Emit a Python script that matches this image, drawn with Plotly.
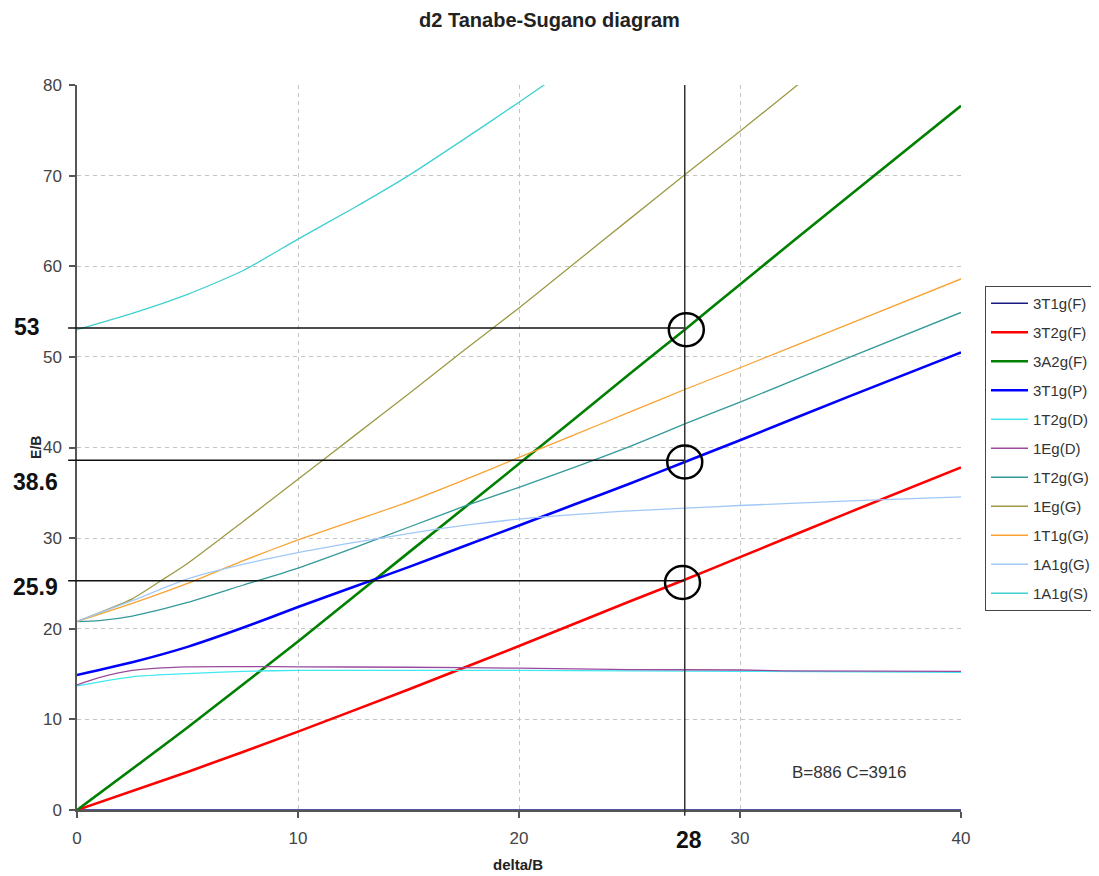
import plotly.graph_objects as go

# ---------------- data ----------------
series_names = ["3T1g(F)", "3T2g(F)", "3A2g(F)", "3T1g(P)", "1T2g(D)", "1Eg(D)",
                "1T2g(G)", "1Eg(G)", "1T1g(G)", "1A1g(G)", "1A1g(S)"]

x_3T1gF = [0, 40]
y_3T1gF = [0, 0]

x_3T2gF = [0, 5, 10, 15, 20, 25, 27.5, 30, 35, 40]
y_3T2gF = [0, 4.2, 8.65, 13.3, 18.1, 23.0, 25.4, 27.9, 32.9, 37.8]

x_3A2gF = [0, 5, 10, 15, 20, 25, 27.5, 30, 35, 40]
y_3A2gF = [0, 9.1, 18.6, 28.4, 38.2, 48.1, 53.0, 58.0, 67.9, 77.7]

x_3T1gP = [0, 2.5, 5, 7.5, 10, 12.5, 15, 17.5, 20, 22.5, 25, 27.5, 30, 35, 40]
y_3T1gP = [14.9, 16.3, 18.0, 20.1, 22.4, 24.6, 26.8, 29.1, 31.4, 33.7, 36.0, 38.4, 40.8, 45.7, 50.5]

x_1T2gD = [0, 2.5, 5, 7.5, 10, 20, 30, 40]
y_1T2gD = [13.7, 14.7, 15.05, 15.3, 15.4, 15.4, 15.3, 15.2]

x_1EgD = [0, 1, 2.5, 5, 10, 15, 20, 25, 30, 32, 40]
y_1EgD = [13.8, 14.6, 15.4, 15.8, 15.8, 15.75, 15.65, 15.5, 15.45, 15.35, 15.3]

x_1T2gG = [0, 1, 2.5, 5, 7.5, 10, 12.5, 15, 17.5, 20, 22.5, 25, 27.5, 30, 35, 40]
y_1T2gG = [20.8, 20.9, 21.4, 22.9, 24.8, 26.7, 28.9, 31.2, 33.5, 35.6, 37.8, 40.1, 42.6, 45.0, 50.0, 54.9]

x_1EgG = [0, 2.5, 3.8, 5, 7.5, 10, 12.5, 15, 17.5, 20, 22.5, 25, 27.5, 30, 32.6, 35, 40]
y_1EgG = [20.8, 23.3, 25.3, 27.2, 31.8, 36.5, 41.2, 45.9, 50.7, 55.4, 60.3, 65.2, 70.1, 74.9, 80.0, 84.7, 94.5]

x_1T1gG = [0, 2.5, 5, 7.5, 10, 12.5, 15, 17.5, 20, 22.5, 25, 27.5, 30, 35, 40]
y_1T1gG = [20.8, 22.8, 25.0, 27.5, 29.8, 31.9, 34.0, 36.4, 38.9, 41.4, 43.9, 46.4, 48.8, 53.7, 58.6]

x_1A1gG = [0, 2.5, 5, 7.5, 10, 12.5, 15, 17.5, 20, 25, 27.5, 30, 35, 40]
y_1A1gG = [20.8, 23.1, 25.5, 27.1, 28.4, 29.5, 30.5, 31.4, 32.1, 33.0, 33.3, 33.6, 34.1, 34.55]

x_1A1gS = [0, 2.5, 5, 7.5, 10, 12.5, 15, 17.5, 20, 22.5, 25]
y_1A1gS = [53.0, 54.8, 56.9, 59.5, 63.0, 66.4, 70.0, 74.0, 78.1, 82.3, 86.5]

# marked readings (label text / marker positions)
marked_x_label = "28"
marked_x = 27.5
marked_y_labels = ["53", "38.6", "25.9"]
marked_y = [53.2, 38.6, 25.3]
circle_y = [53.0, 38.4, 25.1]
circle_x = [27.57, 27.5, 27.4]
note_text = "B=886 C=3916"

# ---------------- styling ----------------
colors = ["#1a1a80", "#ff0000", "#008000", "#0000ff", "#40e8f0", "#9a4a9e",
          "#339999", "#9c9a45", "#f9a231", "#a0c8f8", "#40d0d0"]
widths = [1.3, 2.6, 2.6, 2.6, 1.3, 1.3, 1.3, 1.3, 1.3, 1.3, 1.3]

xs = [x_3T1gF, x_3T2gF, x_3A2gF, x_3T1gP, x_1T2gD, x_1EgD, x_1T2gG, x_1EgG, x_1T1gG, x_1A1gG, x_1A1gS]
ys = [y_3T1gF, y_3T2gF, y_3A2gF, y_3T1gP, y_1T2gD, y_1EgD, y_1T2gG, y_1EgG, y_1T1gG, y_1A1gG, y_1A1gS]

FONT = "Liberation Sans, Arial, sans-serif"
fig = go.Figure()
for i, name in enumerate(series_names):
    fig.add_trace(go.Scatter(
        x=xs[i], y=ys[i], mode="lines", name=name, legendgroup=name,
        line=dict(color=colors[i], width=widths[i], shape="spline", smoothing=0.6),
    ))

shapes = []
for yv in marked_y:
    shapes.append(dict(type="line", xref="paper", yref="y",
                       x0=-0.01, x1=marked_x / 40.0, y0=yv, y1=yv,
                       line=dict(color="#111111", width=1.5)))
shapes.append(dict(type="line", xref="x", yref="paper",
                   x0=marked_x, x1=marked_x, y0=-0.008, y1=1.0,
                   line=dict(color="#333333", width=1.5)))
for cx, cy in zip(circle_x, circle_y):
    shapes.append(dict(type="circle", xref="x", yref="y",
                       xsizemode="pixel", ysizemode="pixel",
                       xanchor=cx, yanchor=cy, x0=-17.5, x1=17.5, y0=-16.5, y1=16.5,
                       line=dict(color="#000000", width=2.5)))

annotations = []
label_pos = [(-0.0566, 53.3), (-0.0464, 36.2), (-0.0464, 24.6)]
for txt, (px, py) in zip(marked_y_labels, label_pos):
    annotations.append(dict(text="<b>" + txt + "</b>", xref="paper", yref="y", x=px, y=py,
                            showarrow=False, xanchor="center", yanchor="middle",
                            font=dict(family=FONT, size=23, color="#111111")))
annotations.append(dict(text="<b>" + marked_x_label + "</b>", xref="x", yref="paper",
                        x=27.7, y=-0.0414, showarrow=False, xanchor="center", yanchor="middle",
                        font=dict(family=FONT, size=23, color="#111111")))
annotations.append(dict(text=note_text, xref="x", yref="y", x=34.93, y=4.1,
                        showarrow=False, xanchor="center", yanchor="middle",
                        font=dict(family=FONT, size=17, color="#333333")))
annotations.append(dict(text="<b>delta/B</b>", xref="paper", yref="paper", x=0.499, y=-0.075,
                        showarrow=False, xanchor="center", yanchor="middle",
                        font=dict(family=FONT, size=15, color="#222222")))
annotations.append(dict(text="<b>E/B</b>", xref="paper", yref="paper", x=-0.047, y=0.50,
                        showarrow=False, xanchor="center", yanchor="middle", textangle=-90,
                        font=dict(family=FONT, size=14, color="#222222")))

axis_common = dict(
    showline=True, linecolor="#555555", linewidth=1.5,
    ticks="outside", ticklen=6, tickcolor="#555555", tickwidth=1.5,
    showgrid=True, gridcolor="#c4c4c4", gridwidth=1, griddash="4px,4px",
    zeroline=False, layer="above traces",
    tickfont=dict(family=FONT, size=17, color="#444444"),
)

# page body has an 8px margin: size/margins chosen so the plot area lands at
# x 77..961, y 85..810 in the 1099x876 browser window
W, H = 1083, 868
fig.update_layout(
    width=W, height=H,
    margin=dict(l=69, r=130, t=77, b=H + 8 - 810, autoexpand=False),
    paper_bgcolor="white", plot_bgcolor="white",
    title=dict(text="<b>d2 Tanabe-Sugano diagram</b>", x=0.5, xanchor="center",
               y=1 - 12 / H, yanchor="middle",
               font=dict(family=FONT, size=20, color="#222222")),
    xaxis=dict(range=[0, 40], dtick=10, tick0=0, ticklabelstandoff=6, automargin=False, **axis_common),
    yaxis=dict(range=[0, 80], dtick=10, tick0=0, ticklabelstandoff=4, automargin=False, **axis_common),
    legend=dict(xref="container", yref="container",
                x=(985 - 8) / W, xanchor="left", y=1 - (286 - 8) / H, yanchor="top",
                bordercolor="#444444", borderwidth=1, bgcolor="white",
                font=dict(family=FONT, size=15, color="#333333"),
                itemwidth=37, tracegroupgap=6.5, traceorder="grouped"),
    shapes=shapes, annotations=annotations, showlegend=True,
)

fig.write_html("out.html")
